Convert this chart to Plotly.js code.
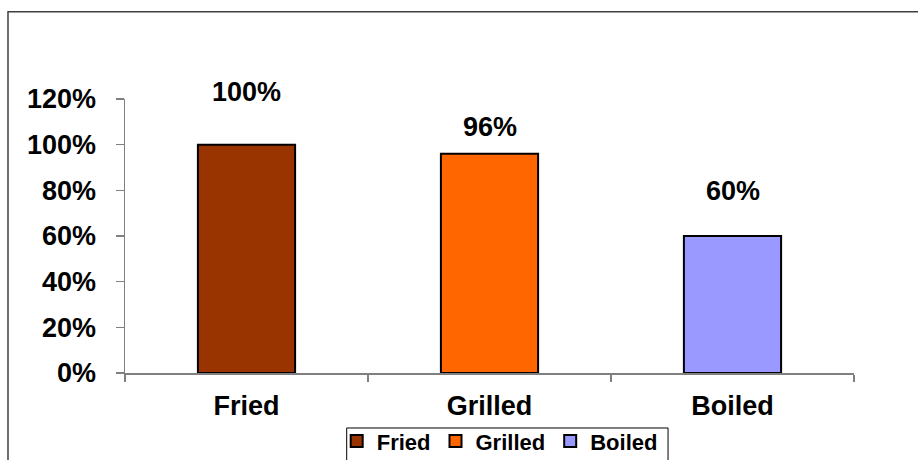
<!DOCTYPE html>
<html>
<head>
<meta charset="utf-8">
<script src="https://cdn.plot.ly/plotly-3.0.1.min.js"></script>
<style>
  html, body { margin: 0; padding: 0; background: #ffffff; }
  #chart { width: 918px; height: 460px; }
</style>
</head>
<body>
<div id="chart"></div>
<script>
// ---- data ----
const categories = ["Fried", "Grilled", "Boiled"];
const values = [1.00, 0.96, 0.60];
const valueLabels = ["100%", "96%", "60%"];
const yTickValues = [0, 0.2, 0.4, 0.6, 0.8, 1.0, 1.2];
const yTickLabels = ["0%", "20%", "40%", "60%", "80%", "100%", "120%"];

// ---- styles ----
const colors = ["#993300", "#FF6600", "#9999FF"];
const labelShift = [53, 27, 45];
const FONT = "Liberation Sans, Arial, sans-serif";

const traces = categories.map((c, i) => ({
  type: "bar",
  name: c,
  x: [c],
  y: [values[i]],
  width: 0.4,
  marker: { color: colors[i], line: { color: "#000000", width: 2 } },
  hoverinfo: "skip"
}));

const annotations = categories.map((c, i) => ({
  x: c,
  y: values[i],
  xref: "x",
  yref: "y",
  text: valueLabels[i],
  showarrow: false,
  yshift: labelShift[i],
  font: { family: FONT, size: 27, color: "#000000", weight: "bold" }
}));

const layout = {
  width: 918,
  height: 460,
  margin: { l: 125, r: 64, t: 99, b: 87, autoexpand: false },
  paper_bgcolor: "#ffffff",
  plot_bgcolor: "#ffffff",
  barmode: "overlay",
  showlegend: true,
  legend: {
    orientation: "h",
    x: 0.514,
    xanchor: "center",
    y: -0.172,
    yanchor: "top",
    bgcolor: "rgba(0,0,0,0)",
    borderwidth: 0,
    font: { family: FONT, size: 22, color: "#000000", weight: "bold" },
    itemwidth: 30,
    tracegroupgap: 0
  },
  xaxis: {
    type: "category",
    categoryorder: "array",
    categoryarray: categories,
    showline: true,
    linecolor: "#808080",
    linewidth: 1.5,
    ticks: "outside",
    tickson: "boundaries",
    ticklen: 7,
    tickcolor: "#808080",
    tickwidth: 1.5,
    showgrid: false,
    zeroline: false,
    ticklabelstandoff: 8,
    tickfont: { family: FONT, size: 27, color: "#000000", weight: "bold" },
    fixedrange: true
  },
  yaxis: {
    range: [0, 1.2],
    tickvals: yTickValues,
    ticktext: yTickLabels,
    showline: true,
    linecolor: "#808080",
    linewidth: 1.5,
    ticks: "outside",
    ticklen: 8,
    tickcolor: "#808080",
    tickwidth: 1.5,
    showgrid: false,
    zeroline: false,
    ticklabelstandoff: 14,
    tickfont: { family: FONT, size: 27, color: "#000000", weight: "bold" },
    fixedrange: true
  },
  annotations: annotations,
  shapes: [
    {
      type: "rect",
      xref: "paper",
      yref: "paper",
      x0: -0.1605,
      x1: 1.2,
      y0: -0.5,
      y1: 1.318,
      line: { color: "#404040", width: 1.5 },
      fillcolor: "rgba(0,0,0,0)",
      layer: "below"
    },
    {
      type: "rect",
      xref: "paper",
      yref: "paper",
      x0: 0.3041,
      x1: 0.7449,
      y0: -0.4,
      y1: -0.2007,
      line: { color: "#000000", width: 1 },
      fillcolor: "rgba(0,0,0,0)",
      layer: "below"
    }
  ]
};

Plotly.newPlot("chart", traces, layout, { staticPlot: true, displayModeBar: false });
</script>
</body>
</html>
